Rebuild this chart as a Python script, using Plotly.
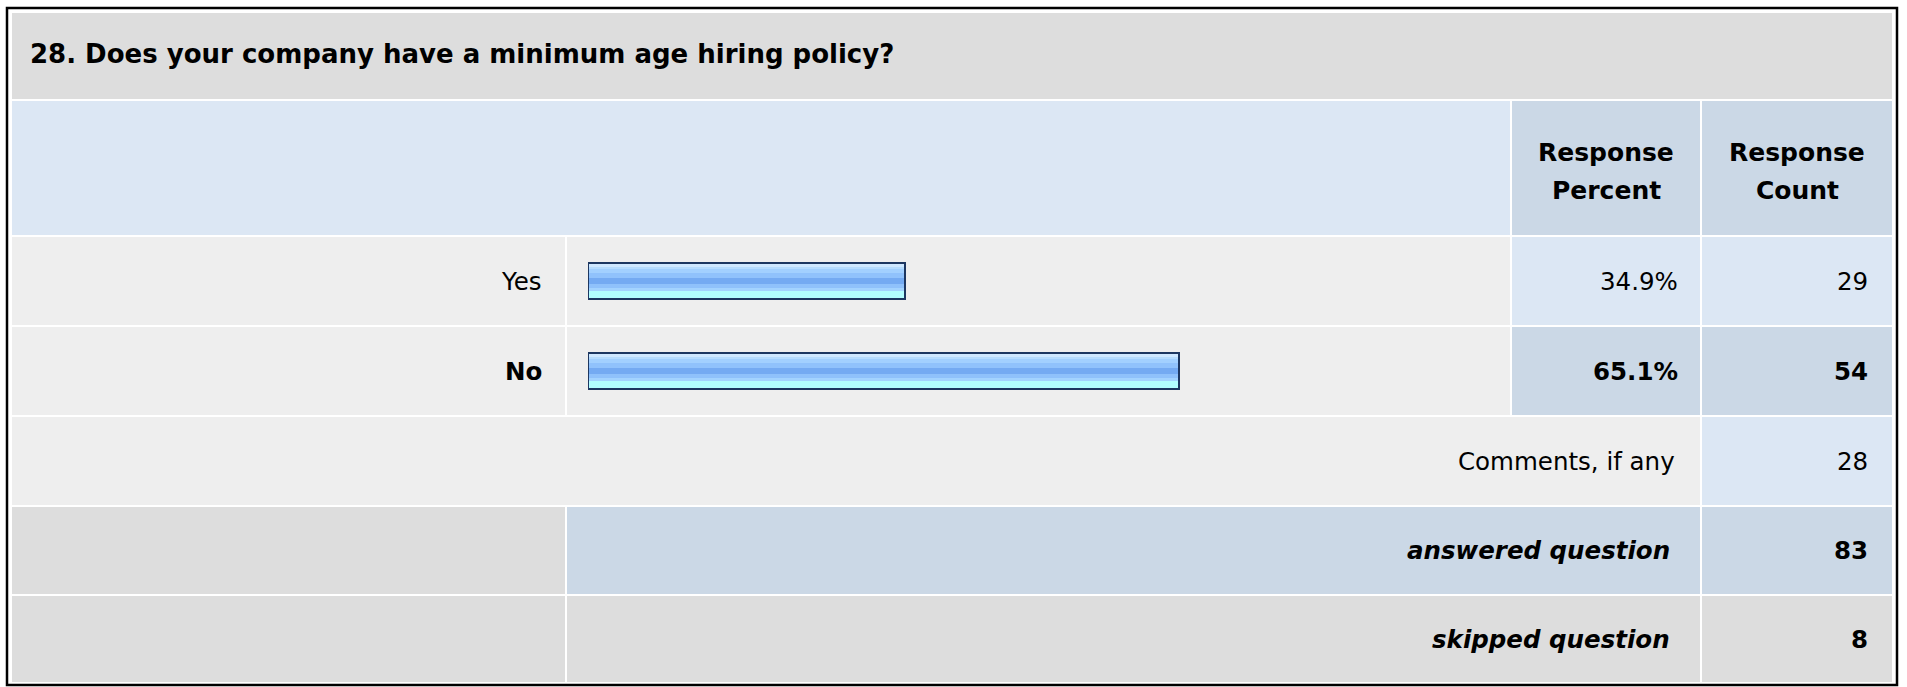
import plotly.graph_objects as go

W, H = 1907, 687

# ---------------- data ----------------
title_text = "28. Does your company have a minimum age hiring policy?"
header_percent = ["Response", "Percent"]
header_count = ["Response", "Count"]
answer_choices = ["Yes", "No"]
response_percent = [34.9, 65.1]
response_count = [29, 54]
comments_label = "Comments, if any"
comments_count = 28
answered_label = "answered question"
answered_count = 83
skipped_label = "skipped question"
skipped_count = 8

# ---------------- layout helpers ----------------
def px(x):
    return x / W


def py(y):
    return 1 - y / H


FONT = "DejaVu Sans"
TXT = "#000000"
GRAY = "#dddddd"
LGRAY = "#eeeeee"
LBLUE = "#dce7f4"
GBLUE = "#cbd8e6"

XG = [11, 566, 1511, 1701, 1893]
YG = [12, 100, 236, 326, 416, 506, 595, 683]

# (col0, col1, row0, row1, color)
cells = [
    (0, 4, 0, 1, GRAY),
    (0, 2, 1, 2, LBLUE), (2, 3, 1, 2, GBLUE), (3, 4, 1, 2, GBLUE),
    (0, 1, 2, 3, LGRAY), (1, 2, 2, 3, LGRAY), (2, 3, 2, 3, LBLUE), (3, 4, 2, 3, LBLUE),
    (0, 1, 3, 4, LGRAY), (1, 2, 3, 4, LGRAY), (2, 3, 3, 4, GBLUE), (3, 4, 3, 4, GBLUE),
    (0, 3, 4, 5, LGRAY), (3, 4, 4, 5, LBLUE),
    (0, 1, 5, 6, GRAY), (1, 3, 5, 6, GBLUE), (3, 4, 5, 6, GBLUE),
    (0, 1, 6, 7, GRAY), (1, 3, 6, 7, GRAY), (3, 4, 6, 7, GRAY),
]

shapes = [
    dict(type="rect", xref="paper", yref="paper", x0=px(7), x1=px(1897), y0=py(685), y1=py(8),
         line=dict(color="#000000", width=2.5), fillcolor="#ffffff", layer="below"),
]
for c0, c1, r0, r1, col in cells:
    shapes.append(dict(type="rect", xref="paper", yref="paper",
                       x0=px(XG[c0] + 1), x1=px(XG[c1] - 1),
                       y0=py(YG[r1] - 1), y1=py(YG[r0] + 1),
                       line=dict(width=0), fillcolor=col, layer="below"))

fig = go.Figure()

# bars: striped gradient built from overlaid bar traces
BAR_W = 0.405
stripes = [
    (0.00, 0.11, "#cfe8ff"), (0.11, 0.18, "#b5dcff"), (0.18, 0.29, "#a2d0ff"),
    (0.29, 0.41, "#90c2fc"), (0.41, 0.58, "#74aaf2"), (0.58, 0.68, "#8fc1fb"),
    (0.68, 0.78, "#a3d3ff"), (0.78, 1.00, "#b2feff"),
]
for top, bot, col in stripes:
    fig.add_trace(go.Bar(
        x=response_percent, y=answer_choices, orientation="h",
        offset=-BAR_W / 2 + top * BAR_W, width=(bot - top) * BAR_W,
        marker=dict(color=col, line=dict(width=0)),
        hoverinfo="skip", showlegend=False))
fig.add_trace(go.Bar(
    x=response_percent, y=answer_choices, orientation="h",
    offset=-BAR_W / 2, width=BAR_W,
    marker=dict(color="rgba(0,0,0,0)", line=dict(color="#1d3761", width=2)),
    hoverinfo="skip", showlegend=False))

ann = []


def add_text(text, x, y, anchor="right", size=24.5):
    ann.append(dict(text=text, x=px(x), y=py(y), xref="paper", yref="paper",
                    xanchor=anchor, yanchor="middle", showarrow=False,
                    font=dict(family=FONT, size=size, color=TXT)))


add_text("<b>%s</b>" % title_text, 28, 54, anchor="left", size=26)
for hdr, cx in ((header_percent, (XG[2] + XG[3]) / 2), (header_count, (XG[3] + XG[4]) / 2)):
    add_text("<b>%s</b>" % hdr[0], cx, 152, anchor="center", size=25)
    add_text("<b>%s</b>" % hdr[1], cx, 191, anchor="center", size=25)

row_mid = [(YG[2] + YG[3]) / 2, (YG[3] + YG[4]) / 2]
for i, (lab, pct, cnt) in enumerate(zip(answer_choices, response_percent, response_count)):
    bold = i == 1
    wrap = (lambda s: "<b>%s</b>" % s) if bold else (lambda s: s)
    add_text(wrap(lab), 544, row_mid[i])
    add_text(wrap("%.1f%%" % pct), 1680, row_mid[i])
    add_text(wrap(str(cnt)), 1870, row_mid[i])

add_text(comments_label, 1677, (YG[4] + YG[5]) / 2)
add_text(str(comments_count), 1870, (YG[4] + YG[5]) / 2)
add_text("<b><i>%s</i></b>" % answered_label, 1672, (YG[5] + YG[6]) / 2)
add_text("<b>%d</b>" % answered_count, 1870, (YG[5] + YG[6]) / 2)
add_text("<b><i>%s</i></b>" % skipped_label, 1672, (YG[6] + YG[7]) / 2)
add_text("<b>%d</b>" % skipped_count, 1870, (YG[6] + YG[7]) / 2)

fig.update_layout(
    width=W, height=H,
    margin=dict(l=0, r=0, t=0, b=0),
    paper_bgcolor="#ffffff", plot_bgcolor="rgba(0,0,0,0)",
    barmode="overlay", bargap=0,
    shapes=shapes, annotations=ann,
    xaxis=dict(domain=[px(588), px(1496)], range=[0, 100], visible=False, fixedrange=True),
    yaxis=dict(domain=[py(YG[4]), py(YG[2])], type="category",
               categoryorder="array", categoryarray=answer_choices,
               range=[1.5, -0.5], visible=False, fixedrange=True),
)

fig.write_html("out.html", config={"displayModeBar": False},
               post_script="document.body.style.margin='0';document.body.style.overflow='hidden';")
